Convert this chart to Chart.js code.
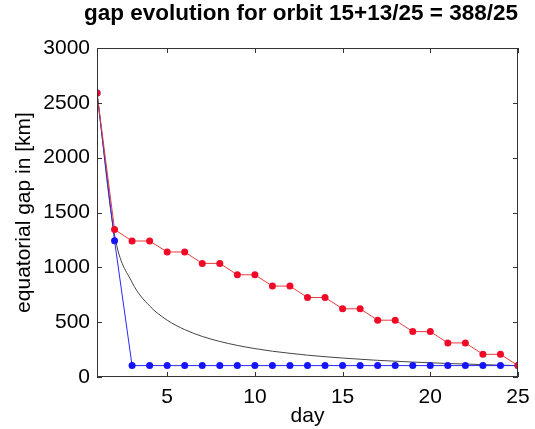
<!DOCTYPE html>
<html>
<head>
<meta charset="utf-8">
<script src="https://cdn.jsdelivr.net/npm/chart.js@4.4.1/dist/chart.umd.min.js"></script>
<style>
  html, body { margin: 0; padding: 0; background: #fff; }
  #wrap { width: 535px; height: 429px; }
</style>
</head>
<body>
<div id="wrap"><canvas id="mycanvas" width="535" height="429"></canvas></div>
<script>
// days of the repeat cycle
var days = [1, 2, 3, 4, 5, 6, 7, 8, 9, 10, 11, 12, 13, 14, 15, 16, 17, 18, 19, 20, 21, 22, 23, 24, 25];

// largest gap, red markers (staircase)
var gapRed = [2590, 1345, 1240, 1240, 1140, 1140, 1036, 1036, 932, 932, 829, 829, 725, 725,
              622, 622, 518, 518, 414, 414, 311, 311, 207, 207, 104];

// gap with optimal filling, blue markers
var gapBlue = [2590, 1243, 104, 104, 104, 104, 104, 104, 104, 104, 104, 104, 104, 104,
               104, 104, 104, 104, 104, 104, 104, 104, 104, 104, 104];

// reference curve, thin dark line
var gapRef = [2590, 1295, 863, 648, 518, 432, 370, 324, 288, 259, 235, 216, 199, 185,
              173, 162, 152, 144, 136, 130, 123, 118, 113, 108, 104];

var xTicks = [5, 10, 15, 20, 25];
var yTicks = [0, 500, 1000, 1500, 2000, 2500, 3000];

function pts(vals) {
    var out = [];
    for (var i in days) {
        out.push({x: days[i], y: vals[i]});
    }
    return out;
}

var FONT = "'Liberation Sans', Arial, sans-serif";

// box round the plot and inward ticks on all four sides
var frame = {
    id: 'frame',
    afterDraw: function (chart) {
        var ctx = chart.ctx, a = chart.chartArea;
        var sx = chart.scales.x, sy = chart.scales.y;
        ctx.save();
        ctx.strokeStyle = '#333';
        ctx.lineWidth = 1;
        ctx.strokeRect(a.left + 0.5, a.top + 0.5, a.width - 1, a.height - 1);
        ctx.beginPath();
        xTicks.forEach(function (v) {
            var px = Math.round(sx.getPixelForValue(v)) + 0.5;
            ctx.moveTo(px, a.bottom); ctx.lineTo(px, a.bottom - 5);
            ctx.moveTo(px, a.top); ctx.lineTo(px, a.top + 5);
        });
        yTicks.forEach(function (v) {
            var py = Math.round(sy.getPixelForValue(v)) + 0.5;
            ctx.moveTo(a.left, py); ctx.lineTo(a.left + 5, py);
            ctx.moveTo(a.right, py); ctx.lineTo(a.right - 5, py);
        });
        ctx.stroke();
        ctx.restore();
    }
};

var ctx = document.getElementById('mycanvas');
var chart = new Chart(ctx, {
    type: 'line',
    data: {
        datasets: [
            {
                label: 'reference',
                data: pts(gapRef),
                borderColor: '#444',
                borderWidth: 1,
                pointRadius: 0,
                cubicInterpolationMode: 'monotone',
                order: 3
            },
            {
                label: 'blue',
                data: pts(gapBlue),
                borderColor: 'rgb(40, 40, 255)',
                backgroundColor: 'rgb(20, 20, 255)',
                borderWidth: 1,
                pointRadius: 3.5,
                pointBorderWidth: 0,
                order: 2
            },
            {
                label: 'red',
                data: pts(gapRed),
                borderColor: 'rgb(230, 60, 60)',
                backgroundColor: 'rgb(240, 10, 40)',
                borderWidth: 1,
                pointRadius: 3.5,
                pointBorderWidth: 0,
                order: 1
            }
        ]
    },
    options: {
        responsive: false,
        animation: false,
        layout: {padding: {left: 4, right: 17, top: 0, bottom: 0}},
        plugins: {
            legend: {display: false},
            tooltip: {enabled: false},
            title: {
                display: true,
                text: 'gap evolution for orbit 15+13/25 = 388/25',
                color: '#000',
                font: {family: FONT, size: 22.5, weight: 'bold'},
                padding: {top: 0, bottom: 21},
                align: 'end'
            }
        },
        scales: {
            x: {
                type: 'linear',
                min: 1,
                max: 25,
                afterBuildTicks: function (axis) {
                    axis.ticks = xTicks.map(function (v) { return {value: v}; });
                },
                afterFit: function (axis) {
                    axis.height = 52;
                    axis.paddingLeft = 0;
                    axis.paddingRight = 0;
                },
                grid: {display: false, drawTicks: false},
                border: {display: false},
                ticks: {color: '#000', font: {family: FONT, size: 21}, padding: 8, maxRotation: 0,
                        callback: function (v) { return String(v); }},
                title: {display: true, text: 'day', color: '#000', font: {family: FONT, size: 21}, padding: {top: 0, bottom: 0}}
            },
            y: {
                min: 0,
                max: 3000,
                afterBuildTicks: function (axis) {
                    axis.ticks = yTicks.map(function (v) { return {value: v}; });
                },
                afterFit: function (axis) { axis.width = 93; },
                grid: {display: false, drawTicks: false},
                border: {display: false},
                ticks: {color: '#000', font: {family: FONT, size: 21}, padding: 7,
                        callback: function (v) { return String(v); }},
                title: {display: true, text: 'equatorial gap in [km]', color: '#000', font: {family: FONT, size: 21}, padding: {top: 8, bottom: 0}}
            }
        }
    },
    plugins: [frame]
});
</script>
</body>
</html>
